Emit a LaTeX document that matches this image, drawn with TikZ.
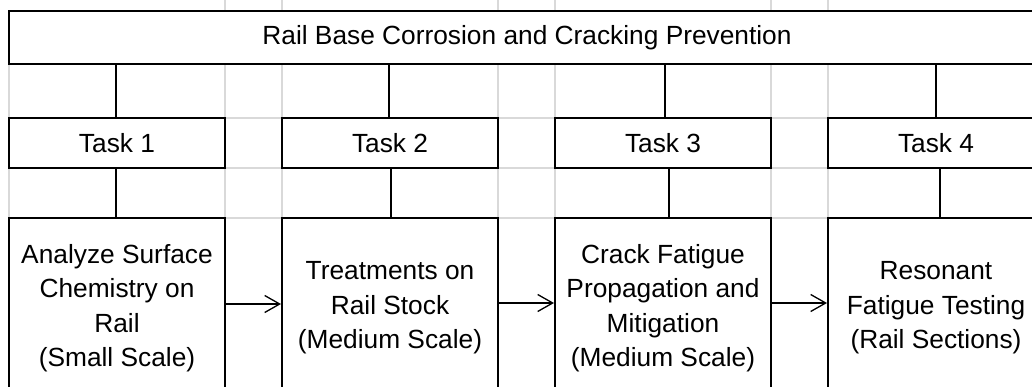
\documentclass[tikz,border=0pt]{standalone}
\usepackage{fontspec}
\setmainfont{Liberation Sans}
\usetikzlibrary{arrows.meta}

\begin{document}
\begin{tikzpicture}[
    x=1pt, y=-1pt,
    font=\fontsize{26.3}{34.4}\selectfont,
    grid_line/.style={draw=black!15, line width=1.5pt},
    box_node/.style={rectangle, draw, fill=white, line width=2pt, inner sep=0pt, align=center},
    title_node/.style={box_node, minimum width=1036pt, minimum height=53pt},
    task_node/.style={box_node, minimum width=216pt, minimum height=50pt},
    work_node/.style={box_node, minimum width=216pt, minimum height=180pt},
    link/.style={line width=1.3pt},
    directed/.style={-{Straight Barb[length=15pt, width=17pt]}, line width=1.3pt}
]
    \clip (0,0) rectangle (1032,387);
    % sheet grid
    \draw[grid_line] (9,11) -- (9,218);
    \draw[grid_line] (225,0) -- (225,218);
    \draw[grid_line] (282,0) -- (282,218);
    \draw[grid_line] (498,0) -- (498,218);
    \draw[grid_line] (555,0) -- (555,218);
    \draw[grid_line] (771,0) -- (771,218);
    \draw[grid_line] (828,0) -- (828,218);
    \draw[grid_line] (9,64) -- (1032,64);
    \draw[grid_line] (9,118) -- (1032,118);
    \draw[grid_line] (9,168) -- (1032,168);
    \draw[grid_line] (9,218) -- (1032,218);
    % boxes
    \node[title_node] (top) at (527,37.5) {Rail Base Corrosion and Cracking Prevention};
    \node[task_node] (T1) at (117,143) {Task 1};
    \node[task_node] (T2) at (390,143) {Task 2};
    \node[task_node] (T3) at (663,143) {Task 3};
    \node[task_node] (T4) at (936,143) {Task 4};
    \node[work_node] (W1) at (117,308) {Analyze Surface\\Chemistry on\\Rail\\(Small Scale)};
    \node[work_node] (W2) at (390,308) {Treatments on\\Rail Stock\\(Medium Scale)};
    \node[work_node] (W3) at (663,308) {Crack Fatigue\\Propagation and\\Mitigation\\(Medium Scale)};
    \node[work_node] (W4) at (936,308) {Resonant\\Fatigue Testing\\(Rail Sections)};
    % tree lines
    \draw[link] ([xshift=-1pt]T1.north) -- ([xshift=-1pt]T1.north |- top.south);
    \draw[link] ([xshift=-1pt]T2.north) -- ([xshift=-1pt]T2.north |- top.south);
    \draw[link] ([xshift=2pt]T3.north) -- ([xshift=2pt]T3.north |- top.south);
    \draw[link] (T4.north) -- (T4.north |- top.south);
    \draw[link] ([xshift=-1pt]W1.north) -- ([xshift=-1pt]W1.north |- T1.south);
    \draw[link] ([xshift=1pt]W2.north) -- ([xshift=1pt]W2.north |- T2.south);
    \draw[link] ([xshift=6pt]W3.north) -- ([xshift=6pt]W3.north |- T3.south);
    \draw[link] ([xshift=4pt]W4.north) -- ([xshift=4pt]W4.north |- T4.south);
    % sequence
    \draw[directed] ([yshift=4pt]W1.east) -- ([yshift=4pt]W2.west);
    \draw[directed] ([yshift=5pt]W2.east) -- ([yshift=5pt]W3.west);
    \draw[directed] ([yshift=5pt]W3.east) -- ([yshift=5pt]W4.west);
\end{tikzpicture}
\end{document}
